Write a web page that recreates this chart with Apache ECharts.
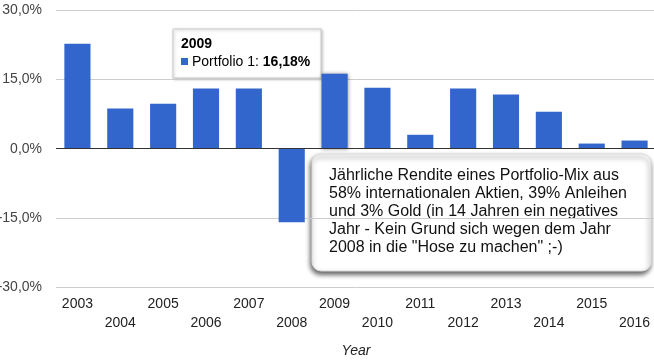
<!DOCTYPE html>
<html><head><meta charset="utf-8">
<script src="https://cdn.jsdelivr.net/npm/echarts@6/dist/echarts.min.js"></script>
<style>html,body{margin:0;padding:0;background:#fff}#c{width:654px;height:362px}</style>
</head><body><div id="c"></div>
<script>
var years = ['2003','2004','2005','2006','2007','2008','2009','2010','2011','2012','2013','2014','2015','2016'];
var returns = [22.7, 8.7, 9.7, 13.0, 13.0, -15.95, 16.18, 13.2, 3.0, 13.0, 11.7, 8.0, 1.1, 1.75];
var yTicks = [-30, -15, 0, 15, 30];
var seriesName = 'Portfolio 1';
var highlightYear = '2009';
var noteLines = [
  'Jährliche Rendite eines Portfolio-Mix aus',
  '58% internationalen Aktien, 39% Anleihen',
  'und 3% Gold (in 14 Jahren ein negatives',
  'Jahr - Kein Grund sich wegen dem Jahr',
  '2008 in die "Hose zu machen" ;-)'
];

function fmt(v){ return v.toFixed(1).replace('.', ',') + '%'; }
function fmt2(v){ return v.toFixed(2).replace('.', ',') + '%'; }

var FONT = 'Arial, Liberation Sans, sans-serif';
var chart = echarts.init(document.getElementById('c'), null, {renderer:'canvas'});
var hi = years.indexOf(highlightYear);
var data = returns.map(function(v, i){
  if (i === hi) return {value: v, itemStyle: {shadowBlur: 4, shadowColor: 'rgba(0,0,0,0.45)'}};
  return v;
});

chart.setOption({
  animation: false,
  textStyle: {fontFamily: FONT},
  grid: {left: 56, top: 10, width: 600, height: 277.3, containLabel: false, outerBoundsMode: 'none'},
  xAxis: {
    type: 'category', data: years,
    name: 'Year', nameLocation: 'middle', nameGap: 57,
    nameTextStyle: {fontStyle: 'italic', fontSize: 14, color: '#222'},
    axisLine: {show: false, onZero: false}, axisTick: {show: false},
    axisLabel: {
      interval: 0, margin: 8, fontSize: 14, color: '#222', lineHeight: 18.5,
      formatter: function(v, i){ return (i % 2) ? '\n' + v : v; }
    }
  },
  yAxis: {
    type: 'value', min: yTicks[0], max: yTicks[yTicks.length-1], interval: 15,
    axisLine: {show: false}, axisTick: {show: false},
    axisLabel: {fontSize: 14, color: '#444', margin: 14, formatter: fmt},
    splitLine: {lineStyle: {color: '#cccccc', width: 1}}
  },
  series: [{
    type: 'bar', name: seriesName, data: data, barWidth: '61%',
    itemStyle: {color: '#3366cc'},
    markLine: {
      silent: true, symbol: 'none', label: {show: false},
      lineStyle: {color: '#333', width: 1, type: 'solid'},
      data: [{yAxis: 0}]
    }
  }],
  graphic: [
    {
      type: 'group', z: 100,
      children: [
        {type: 'rect', shape: {x: 173, y: 29, width: 148, height: 49},
         style: {fill: '#fff', stroke: '#cccccc', lineWidth: 1, shadowBlur: 3, shadowColor: 'rgba(0,0,0,0.25)', shadowOffsetX: 1, shadowOffsetY: 1}},
        {type: 'text', style: {x: 181, y: 44, text: highlightYear, font: 'bold 14px ' + FONT, fill: '#000', verticalAlign: 'middle'}},
        {type: 'rect', shape: {x: 181, y: 58, width: 7, height: 7}, style: {fill: '#3366cc'}},
        {type: 'text', style: {x: 192, y: 62.5, verticalAlign: 'middle',
          text: '{a|' + seriesName + ': }{b|' + fmt2(returns[hi]) + '}',
          rich: {a: {font: '14px ' + FONT, fill: '#000'}, b: {font: 'bold 14px ' + FONT, fill: '#000'}}}}
      ]
    },
    {
      type: 'group', z: 100,
      children: [
        {type: 'rect', shape: {x: 312, y: 154, width: 339, height: 117, r: 9},
         style: {fill: '#fff', stroke: '#dddddd', lineWidth: 1, shadowBlur: 5, shadowColor: 'rgba(0,0,0,0.65)', shadowOffsetX: -1, shadowOffsetY: 3}},
        {type: 'text', style: {x: 329, y: 166.5, text: noteLines.join('\n'), font: '16px ' + FONT, lineHeight: 18, fill: '#111'}}
      ]
    }
  ]
});
</script></body></html>
